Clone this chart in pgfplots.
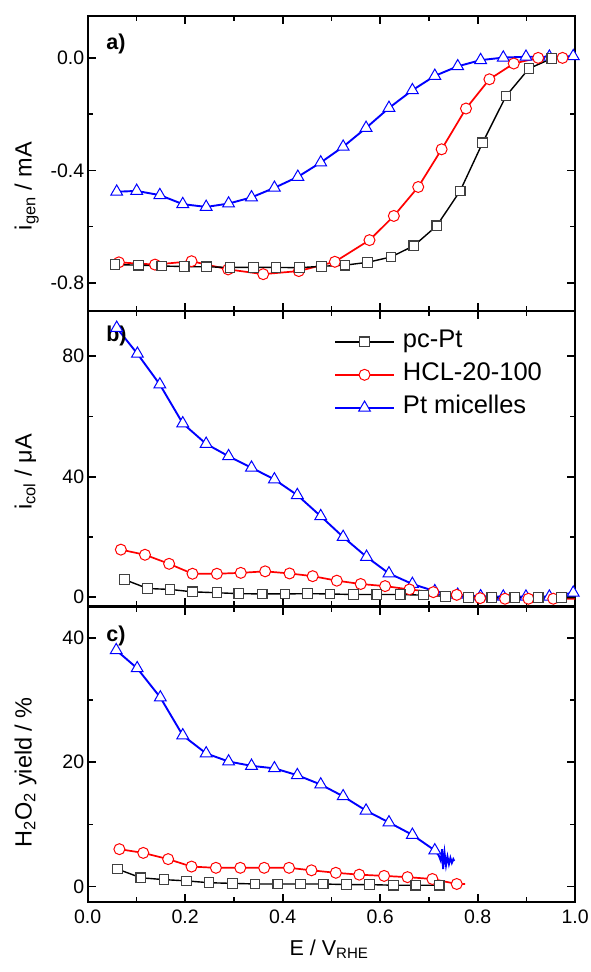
\documentclass[border=0pt]{standalone}
\usepackage{fontspec}
\setmainfont{Liberation Sans}
\usepackage{pgfplots}
\pgfplotsset{compat=1.18}

\pgfplotsset{
  panel/.style={
    scale only axis, width=487.5pt, height=295.3pt,
    anchor=north west,
    xmin=0, xmax=1,
    xtick={0,0.2,0.4,0.6,0.8,1.0},
    minor x tick num=1, minor y tick num=1,
    tick align=inside,
    major tick length=8pt, minor tick length=5pt,
    tick style={black, line width=1.6pt},
    axis line style={line width=2.2pt},
    tick label style={font=\fontsize{19.5}{20}\selectfont},
    ylabel style={font=\fontsize{23.5}{24}\selectfont, at={(axis description cs:-0.115,0.43)}, anchor=base},
    xlabel style={font=\fontsize{21.5}{22}\selectfont, at={(axis description cs:0.495,-0.18)}, anchor=base},
    xticklabel style={yshift=-4pt},
    clip=false,
  },
  blk/.style={black, line width=1.4pt, mark=square*, mark size=4.8pt,
    mark options={fill=white, draw=black!75, line width=1.1pt, solid}},
  rd/.style={red, line width=1.7pt, mark=*, mark size=5.5pt,
    mark options={fill=white, draw=red, line width=1.0pt, solid}},
  bl/.style={blue, line width=1.9pt, mark=triangle*, mark size=6.8pt,
    mark options={fill=white, draw=blue, line width=1.0pt, solid}},
}

\begin{document}
\begin{tikzpicture}
\useasboundingbox (0,0) rectangle (590pt,-972pt);

% ---------------- panel a
\begin{axis}[panel, at={(87.7pt,-15.7pt)},
  ymin=-0.9, ymax=0.15,
  ytick={-0.8,-0.4,0.0}, yticklabels={-0.8,-0.4,0.0},
  xticklabels={},
  ylabel={i\textsubscript{gen} / mA},
  ylabel style={at={(axis description cs:-0.115,0.423)}},
]
\addplot[bl] coordinates {(0.0595,-0.476)(0.1005,-0.473)(0.148,-0.488)(0.195,-0.520)(0.243,-0.530)(0.289,-0.518)(0.336,-0.496)(0.383,-0.462)(0.431,-0.423)(0.478,-0.372)(0.524,-0.316)(0.571,-0.249)(0.618,-0.178)(0.666,-0.115)(0.712,-0.064)(0.759,-0.030)(0.806,-0.008)(0.8525,0.001)(0.899,0.004)(0.947,0.004)(0.996,0.006)};
\addplot[rd, mark indices={1,...,16}] coordinates {(0.064,-0.727)(0.138,-0.735)(0.213,-0.723)(0.288,-0.752)(0.360,-0.769)(0.433,-0.758)(0.507,-0.725)(0.578,-0.648)(0.628,-0.562)(0.678,-0.459)(0.726,-0.325)(0.776,-0.180)(0.824,-0.076)(0.874,-0.020)(0.924,0.0)(0.974,0.0)(1.0,0.0)};
\addplot[blk, mark indices={1,...,20}] coordinates {(0.056,-0.735)(0.104,-0.737)(0.152,-0.740)(0.198,-0.742)(0.244,-0.743)(0.292,-0.745)(0.340,-0.745)(0.386,-0.745)(0.434,-0.746)(0.480,-0.741)(0.528,-0.737)(0.574,-0.727)(0.622,-0.708)(0.669,-0.668)(0.716,-0.597)(0.764,-0.473)(0.810,-0.302)(0.858,-0.136)(0.905,-0.038)(0.952,-0.002)(1.0,0.0)};
\node[font=\fontsize{21.5}{22}\selectfont\bfseries, anchor=west] at (rel axis cs:0.031,0.904) {a)};
\end{axis}

% ---------------- panel b
\begin{axis}[panel, at={(87.7pt,-311pt)},
  ymin=-3, ymax=95,
  ytick={0,40,80}, yticklabels={0,40,80},
  xticklabels={},
  ylabel={i\textsubscript{col} / μA},
  ylabel style={at={(axis description cs:-0.115,0.455)}},
  reverse legend,
  legend style={draw=none, fill=none, at={(rel axis cs:0.505,0.937)}, anchor=north west,
    font=\fontsize{25.5}{26}\selectfont, inner sep=0pt, column sep=8pt, row sep=9pt,
    nodes={inner sep=0pt, text height=18pt, text depth=6pt}},
  legend cell align=left,
  legend image code/.code={\draw[#1, mark indices={2}] plot coordinates {(0pt,0pt) (29.5pt,0pt) (59pt,0pt)};},
]
\addplot[bl] coordinates {(0.0595,89.4)(0.102,80.8)(0.148,70.6)(0.195,57.7)(0.243,50.9)(0.289,46.8)(0.336,43.0)(0.383,39.1)(0.430,33.9)(0.478,26.9)(0.524,20.0)(0.572,13.4)(0.618,7.9)(0.666,4.4)(0.712,2.0)(0.759,0.8)(0.806,0.3)(0.8525,0.2)(0.899,0.2)(0.947,0.2)(0.996,1.5)};
\addlegendentry{Pt micelles}
\addplot[rd, mark indices={1,...,19}] coordinates {(0.068,15.8)(0.1175,14.1)(0.167,11.1)(0.215,7.8)(0.265,7.8)(0.314,8.1)(0.364,8.6)(0.414,7.9)(0.4615,7.0)(0.511,5.5)(0.560,4.4)(0.610,3.7)(0.660,2.6)(0.709,1.7)(0.757,0.8)(0.805,-0.3)(0.856,-0.5)(0.904,-0.5)(0.955,-0.5)(1.0,-0.5)};
\addlegendentry{HCL-20-100}
\addplot[blk, mark indices={1,...,20}] coordinates {(0.075,5.9)(0.123,2.9)(0.169,2.6)(0.215,1.8)(0.265,1.5)(0.310,1.2)(0.358,1.1)(0.405,1.1)(0.4505,1.2)(0.497,1.1)(0.545,0.9)(0.593,0.9)(0.641,0.9)(0.689,0.7)(0.734,0.3)(0.781,0.0)(0.829,-0.1)(0.876,-0.1)(0.924,-0.1)(0.972,-0.1)(1.0,-0.1)};
\addlegendentry{pc-Pt}
\node[font=\fontsize{21.5}{22}\selectfont\bfseries, anchor=west] at (rel axis cs:0.031,0.915) {b)};
\end{axis}

% ---------------- panel c
\begin{axis}[panel, at={(87.7pt,-606.7pt)},
  ymin=-2.5, ymax=45,
  ytick={0,20,40}, yticklabels={0,20,40},
  xticklabels={0.0,0.2,0.4,0.6,0.8,1.0},
  xlabel={E / V\textsubscript{RHE}},
  ylabel={H\textsubscript{2}O\textsubscript{2} yield / \%},
  ylabel style={at={(axis description cs:-0.115,0.44)}},
]
\addplot[bl, mark indices={1,...,15}] coordinates {(0.0585,38.0)(0.1015,35.1)(0.149,30.4)(0.195,24.3)(0.243,21.4)(0.289,20.1)(0.336,19.4)(0.383,19.0)(0.430,17.9)(0.478,16.4)(0.524,14.5)(0.571,12.2)(0.618,10.3)(0.666,8.3)(0.712,5.8)(0.720,5.0)(0.724,4.2)(0.727,6.0)(0.729,2.8)(0.732,5.4)(0.735,3.4)(0.738,4.8)(0.741,3.6)(0.744,4.6)(0.747,3.8)(0.750,4.4)(0.752,4.1)};
\addplot[rd, mark indices={1,...,15}] coordinates {(0.065,6.0)(0.114,5.4)(0.165,4.4)(0.213,3.2)(0.263,3.0)(0.313,3.0)(0.362,3.0)(0.413,3.0)(0.459,2.6)(0.509,2.2)(0.557,1.9)(0.608,1.7)(0.656,1.5)(0.707,1.2)(0.757,0.4)(0.774,0.4)};
\addplot[blk, mark indices={1,...,15}] coordinates {(0.061,2.8)(0.109,1.4)(0.1565,1.1)(0.203,0.9)(0.249,0.6)(0.297,0.5)(0.343,0.4)(0.390,0.4)(0.437,0.4)(0.483,0.4)(0.531,0.3)(0.578,0.3)(0.627,0.2)(0.673,0.2)(0.721,0.2)(0.729,0.2)};
\node[font=\fontsize{21.5}{22}\selectfont\bfseries, anchor=west] at (rel axis cs:0.031,0.90) {c)};
\end{axis}
\end{tikzpicture}
\end{document}
